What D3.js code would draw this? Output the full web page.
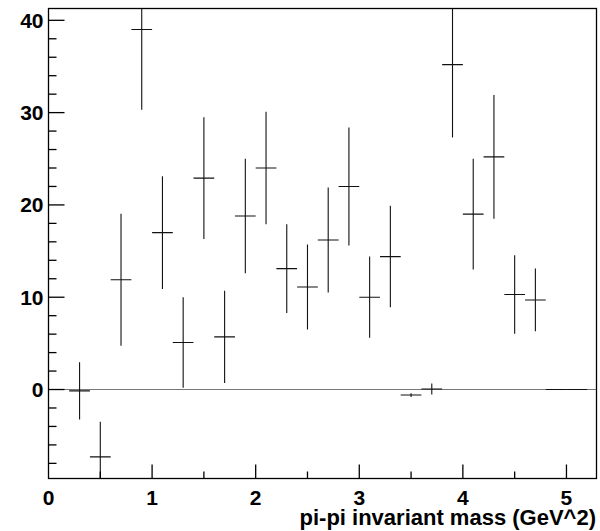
<!DOCTYPE html>
<html>
<head>
<meta charset="utf-8">
<script src="https://cdn.jsdelivr.net/npm/d3@7"></script>
<style>
  body { margin: 0; background: #fff; }
  text { font-family: "Liberation Sans", Arial, sans-serif; font-weight: bold; }
</style>
</head>
<body>
<svg id="mainsvg" width="600" height="531"></svg>
<script>
// bin centres (width 0.2), contents and errors
const binCenters = [0.3, 0.5, 0.7, 0.9, 1.1, 1.3, 1.5, 1.7, 1.9, 2.1, 2.3, 2.5, 2.7, 2.9,
  3.1, 3.3, 3.5, 3.7, 3.9, 4.1, 4.3, 4.5, 4.7, 4.9, 5.1];
const binValues = [-0.15, -7.3, 11.9, 39.0, 17.0, 5.1, 22.9, 5.7, 18.8, 24.0, 13.1, 11.1, 16.2, 22.0,
  10.0, 14.4, -0.6, 0.05, 35.2, 19.0, 25.2, 10.3, 9.7, 0, 0];
const binErrors = [3.1, 3.8, 7.15, 8.7, 6.1, 4.9, 6.6, 5.0, 6.2, 6.1, 4.8, 4.6, 5.7, 6.4,
  4.4, 5.5, 0.2, 0.6, 7.9, 6.0, 6.7, 4.25, 3.4, 0, 0];
const binWidth = 0.2;
const xTicks = [0, 1, 2, 3, 4, 5];
const yTicks = [0, 10, 20, 30, 40];
const xTitle = 'pi-pi invariant mass (GeV^2)';

const svg = d3.select('#mainsvg');
const m = { left: 48.5, right: 596.5, top: 8.5, bottom: 478.5 };

const xScale = d3.scaleLinear().domain([0, 5.29]).range([m.left, m.right]);
const yScale = d3.scaleLinear().domain([-9.64, 41.28]).range([m.bottom, m.top]);

const data = binCenters.map((c, i) => ({ c, v: binValues[i], e: binErrors[i] }));

svg.append('defs').append('clipPath').attr('id', 'clip')
  .append('rect')
  .attr('x', m.left).attr('y', m.top)
  .attr('width', m.right - m.left).attr('height', m.bottom - m.top);

const plot = svg.append('g').attr('clip-path', 'url(#clip)');

// zero line
plot.append('line')
  .attr('x1', m.left).attr('x2', m.right)
  .attr('y1', yScale(0)).attr('y2', yScale(0))
  .attr('stroke', '#777').attr('stroke-width', 1.2);

const pts = plot.selectAll('g.pt').data(data).enter().append('g').attr('class', 'pt');
pts.append('line')
  .attr('x1', d => xScale(d.c - binWidth / 2))
  .attr('x2', d => xScale(d.c + binWidth / 2))
  .attr('y1', d => yScale(d.v)).attr('y2', d => yScale(d.v))
  .attr('stroke', '#111').attr('stroke-width', 1.1);
pts.filter(d => d.e > 0).append('line')
  .attr('x1', d => xScale(d.c)).attr('x2', d => xScale(d.c))
  .attr('y1', d => yScale(d.v + d.e)).attr('y2', d => yScale(d.v - d.e))
  .attr('stroke', '#111').attr('stroke-width', 1.1);

// frame
svg.append('rect')
  .attr('x', m.left).attr('y', m.top)
  .attr('width', m.right - m.left).attr('height', m.bottom - m.top)
  .attr('fill', 'none').attr('stroke', '#000').attr('stroke-width', 1.3);

// y axis: major every 10, minor every 2
svg.append('g').selectAll('line').data(d3.range(-8, 42, 2)).enter().append('line')
  .attr('x1', m.left).attr('x2', d => m.left + (d % 10 === 0 ? 16 : 8))
  .attr('y1', d => yScale(d)).attr('y2', d => yScale(d))
  .attr('stroke', '#000').attr('stroke-width', 1.3);
svg.append('g').selectAll('text').data(yTicks).enter().append('text')
  .attr('x', 43.5).attr('y', d => yScale(d))
  .attr('dy', '0.36em')
  .attr('text-anchor', 'end')
  .attr('font-size', 21)
  .text(d => d);

// x axis: major every 1, minor every 0.5
svg.append('g').selectAll('line').data(d3.range(0.5, 5.3, 0.5)).enter().append('line')
  .attr('x1', d => xScale(d)).attr('x2', d => xScale(d))
  .attr('y1', m.bottom)
  .attr('y2', d => Math.abs(d - Math.round(d)) < 1e-6 ? m.bottom - 14 : m.bottom - 7)
  .attr('stroke', '#000').attr('stroke-width', 1.3);
svg.append('g').selectAll('text').data(xTicks).enter().append('text')
  .attr('x', d => xScale(d)).attr('y', 505)
  .attr('text-anchor', 'middle')
  .attr('font-size', 21)
  .text(d => d);

svg.append('text')
  .attr('x', 596).attr('y', 524.5)
  .attr('text-anchor', 'end')
  .attr('font-size', 22)
  .text(xTitle);
</script>
</body>
</html>
